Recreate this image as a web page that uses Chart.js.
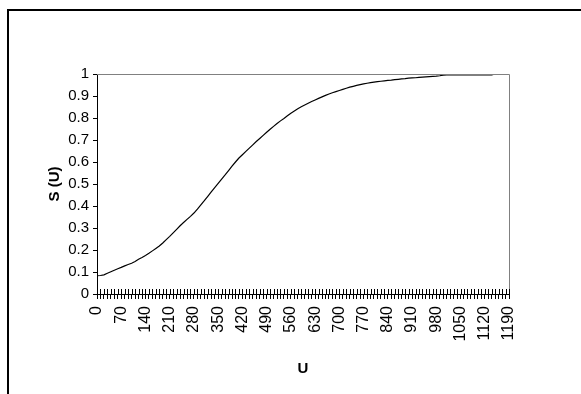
<!DOCTYPE html>
<html>
<head>
<meta charset="utf-8">
<script src="https://cdn.jsdelivr.net/npm/chart.js@4"></script>
<style>
  html, body { margin: 0; padding: 0; background: #fff; }
  #wrap { position: relative; width: 581px; height: 394px; }
  #marco { position: absolute; left: 7px; top: 9px; right: -5px; bottom: -5px; border-left: 2px solid #000; border-top: 2px solid #000; }
  canvas { position: absolute; left: 0; top: 0; }
</style>
</head>
<body>
<div id="wrap">
  <div id="marco"></div>
  <canvas id="miGrafico" width="581" height="394"></canvas>
</div>
<script>
// categorias del eje U
var categorias = [
  0, 10, 20, 30, 40, 50, 60, 70, 80, 90,
  100, 110, 120, 130, 140, 150, 160, 170, 180, 190,
  200, 210, 220, 230, 240, 250, 260, 270, 280, 290,
  300, 310, 320, 330, 340, 350, 360, 370, 380, 390,
  400, 410, 420, 430, 440, 450, 460, 470, 480, 490,
  500, 510, 520, 530, 540, 550, 560, 570, 580, 590,
  600, 610, 620, 630, 640, 650, 660, 670, 680, 690,
  700, 710, 720, 730, 740, 750, 760, 770, 780, 790,
  800, 810, 820, 830, 840, 850, 860, 870, 880, 890,
  900, 910, 920, 930, 940, 950, 960, 970, 980, 990,
  1000, 1010, 1020, 1030, 1040, 1050, 1060, 1070, 1080, 1090,
  1100, 1110, 1120, 1130, 1140, 1150, 1160, 1170, 1180, 1190
];

// valores de S(U)
var valoresS = [
  0.083, 0.084, 0.087, 0.094, 0.101, 0.108, 0.115, 0.121, 0.128, 0.134,
  0.140, 0.148, 0.158, 0.166, 0.175, 0.185, 0.196, 0.207, 0.218, 0.232,
  0.247, 0.262, 0.278, 0.294, 0.310, 0.325, 0.339, 0.353, 0.368, 0.386,
  0.405, 0.424, 0.444, 0.464, 0.484, 0.503, 0.522, 0.541, 0.561, 0.581,
  0.600, 0.618, 0.633, 0.648, 0.663, 0.678, 0.693, 0.707, 0.721, 0.735,
  0.749, 0.762, 0.775, 0.787, 0.798, 0.810, 0.822, 0.832, 0.842, 0.851,
  0.859, 0.867, 0.875, 0.882, 0.889, 0.896, 0.903, 0.909, 0.915, 0.920,
  0.925, 0.930, 0.935, 0.940, 0.944, 0.948, 0.952, 0.955, 0.958, 0.961,
  0.963, 0.965, 0.967, 0.969, 0.971, 0.972, 0.974, 0.976, 0.978, 0.979,
  0.981, 0.982, 0.983, 0.985, 0.986, 0.987, 0.988, 0.989, 0.990, 0.992,
  0.995, 0.996, 0.996, 0.996, 0.996, 0.996, 0.996, 0.996, 0.996, 0.996,
  0.996, 0.996, 0.996, 0.996, 0.996, 1, 1, 1, 1, 1
];

// cada cuantas categorias se escribe una etiqueta
var pasoEtiqueta = 7;

// marco gris arriba y a la derecha + marcas que cruzan el eje x
var bordePlot = {
  id: 'bordePlot',
  afterDraw: function(chart) {
    var ctx = chart.ctx;
    var a = chart.chartArea;
    ctx.save();
    ctx.strokeStyle = '#808080';
    ctx.lineWidth = 1;
    ctx.beginPath();
    ctx.moveTo(a.left, a.top + 0.5);
    ctx.lineTo(a.right + 0.5, a.top + 0.5);
    ctx.lineTo(a.right + 0.5, a.bottom);
    ctx.stroke();
    var escalaX = chart.scales.x;
    ctx.strokeStyle = '#000';
    ctx.beginPath();
    for (var i = 0; i < escalaX.ticks.length; i++) {
      var px = Math.round(escalaX.getPixelForTick(i)) + 0.5;
      ctx.moveTo(px, a.bottom - 5);
      ctx.lineTo(px, a.bottom);
    }
    ctx.stroke();
    ctx.restore();
  }
};

var ctx = document.getElementById('miGrafico').getContext('2d');

var miGrafico = new Chart(ctx, {
  type: 'line',
  data: {
    labels: categorias,
    datasets: [{
      data: valoresS,
      borderColor: '#000',
      borderWidth: 1.2,
      pointRadius: 0,
      tension: 0,
      fill: false
    }]
  },
  options: {
    responsive: false,
    animation: false,
    layout: { padding: { top: 74, right: 72, left: 0, bottom: 0 } },
    plugins: { legend: { display: false }, tooltip: { enabled: false } },
    scales: {
      x: {
        offset: false,
        afterFit: function(scale) { scale.height = 100; },
        grid: { drawOnChartArea: false, color: '#000', tickLength: 5 },
        border: { color: '#000', width: 1 },
        ticks: {
          autoSkip: false,
          minRotation: 90,
          maxRotation: 90,
          padding: 7,
          color: '#000',
          font: { family: 'Liberation Sans, Arial', size: 16 },
          callback: function(val, i) {
            return i % pasoEtiqueta === 0 ? String(categorias[i]) : '';
          }
        },
        title: {
          display: true,
          text: 'U',
          color: '#000',
          font: { family: 'Liberation Sans, Arial', size: 15, weight: 'bold' },
          padding: { top: 0, bottom: 16 }
        }
      },
      y: {
        min: 0,
        max: 1,
        afterFit: function(scale) { scale.width = 97; },
        grid: { drawOnChartArea: false, color: '#000', tickLength: 4 },
        border: { color: '#000', width: 1 },
        ticks: {
          stepSize: 0.1,
          padding: 4,
          color: '#000',
          font: { family: 'Liberation Sans, Arial', size: 15 },
          callback: function(val) { return String(Number(val.toFixed(1))); }
        },
        title: {
          display: true,
          text: 'S (U)',
          color: '#000',
          font: { family: 'Liberation Sans, Arial', size: 15, weight: 'bold' },
          padding: { top: 46, bottom: 0 }
        }
      }
    }
  },
  plugins: [bordePlot]
});
</script>
</body>
</html>
